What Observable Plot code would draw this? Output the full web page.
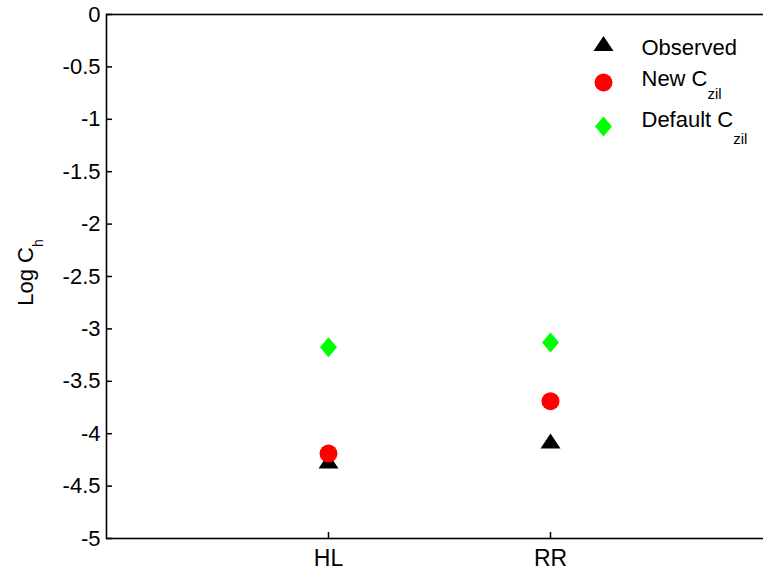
<!DOCTYPE html>
<html><head><meta charset="utf-8">
<script src="https://cdn.jsdelivr.net/npm/d3@7"></script>
<script src="https://cdn.jsdelivr.net/npm/@observablehq/plot@0.6"></script>
<style>
html,body{margin:0;padding:0;background:#fff;overflow:hidden;}
</style>
</head><body><div id="chart"></div>
<script>
// ---- data ----
const sites = ["HL", "RR"];
const observed = [-4.26, -4.07];
const newCzil = [-4.19, -3.69];
const defaultCzil = [-3.175, -3.13];
const yTicks = [0, -0.5, -1, -1.5, -2, -2.5, -3, -3.5, -4, -4.5, -5];
const seriesNames = ["Observed", "New C_zil", "Default C_zil"];
const seriesColors = ["#000000", "#ff0000", "#00ff00"];
const yLabel = "Log C_h";

// ---- custom MATLAB-like symbols ----
const triangleUp = {draw(ctx, size) { const r = Math.sqrt(size / Math.PI); const w = r, h = r * 0.75;
  ctx.moveTo(0, -h); ctx.lineTo(w, h); ctx.lineTo(-w, h); ctx.closePath(); }};
const diamond = {draw(ctx, size) { const r = Math.sqrt(size / Math.PI); const w = r * 0.85, h = r;
  ctx.moveTo(0, -h); ctx.lineTo(w, 0); ctx.lineTo(0, h); ctx.lineTo(-w, 0); ctx.closePath(); }};
const symbols = [triangleUp, "circle", diamond];
const radii = [10, 9, 10];

const data = [];
sites.forEach((s, i) => {
  data.push({x: i + 1, y: observed[i], k: 0});
  data.push({x: i + 1, y: newCzil[i], k: 1});
  data.push({x: i + 1, y: defaultCzil[i], k: 2});
});

const legendDy = [29, 68, 112];
const legendTextDy = [33, 64, 105];
const legendSubDy = [0, 13, 17];

const marks = [
  Plot.frame({stroke: "black", strokeWidth: 1.6}),
  Plot.axisY({ticks: yTicks, tickFormat: d => String(d), tickSize: -6, tickPadding: 12, strokeWidth: 1.5, fontSize: 22, label: null}),
  Plot.axisX({ticks: sites.map((s, i) => i + 1), tickFormat: d => sites[d - 1], tickSize: -6, tickPadding: 17, strokeWidth: 1.5, fontSize: 23, label: null}),
  ...[0, 1, 2].map(k => Plot.dot(data.filter(d => d.k === k), {x: "x", y: "y", symbol: () => symbols[k], r: radii[k], fill: seriesColors[k], stroke: "none"})),
  ...[0, 1, 2].map(k => Plot.dot([seriesNames[k]], {frameAnchor: "top-left", dx: 497, dy: legendDy[k], symbol: () => symbols[k], r: radii[k], fill: seriesColors[k], stroke: "none"})),
  ...[0, 1, 2].map(k => Plot.text([seriesNames[k]], {text: d => d, frameAnchor: "top-left", lineAnchor: "middle", dx: 535, dy: legendTextDy[k], textAnchor: "start", fontSize: 22, fill: "black", className: "subtxt" + k})),
  Plot.text([yLabel], {text: d => d, frameAnchor: "left", lineAnchor: "middle", dx: -81, dy: -4, rotate: -90, textAnchor: "middle", fontSize: 22, fill: "black", className: "sublabel"})
];

const chart = Plot.plot({
  width: 763, height: 571,
  marginLeft: 106, marginTop: 14, marginBottom: 33, marginRight: -9,
  style: {fontFamily: "'Liberation Sans', Arial, sans-serif", fontSize: "22px", background: "white", color: "black"},
  x: {type: "linear", domain: [0, 3]},
  y: {domain: [-5, 0]},
  symbol: {type: "identity"},
  marks
});
document.getElementById("chart").appendChild(chart);

// subscripts as tspans
function subscript(sel, size, dy) {
  sel.each(function() {
    const t = d3.select(this);
    const txt = t.text();
    const idx = txt.indexOf("_");
    if (idx < 0) return;
    t.text(null);
    t.append("tspan").text(txt.slice(0, idx));
    t.append("tspan").attr("font-size", size).attr("dy", dy).text(txt.slice(idx + 1));
  });
}
[0, 1, 2].forEach(k => subscript(d3.select(chart).selectAll(".subtxt" + k + " text"), 15, legendSubDy[k]));
subscript(d3.select(chart).selectAll(".sublabel text"), 14, 10);
</script>
</body></html>
